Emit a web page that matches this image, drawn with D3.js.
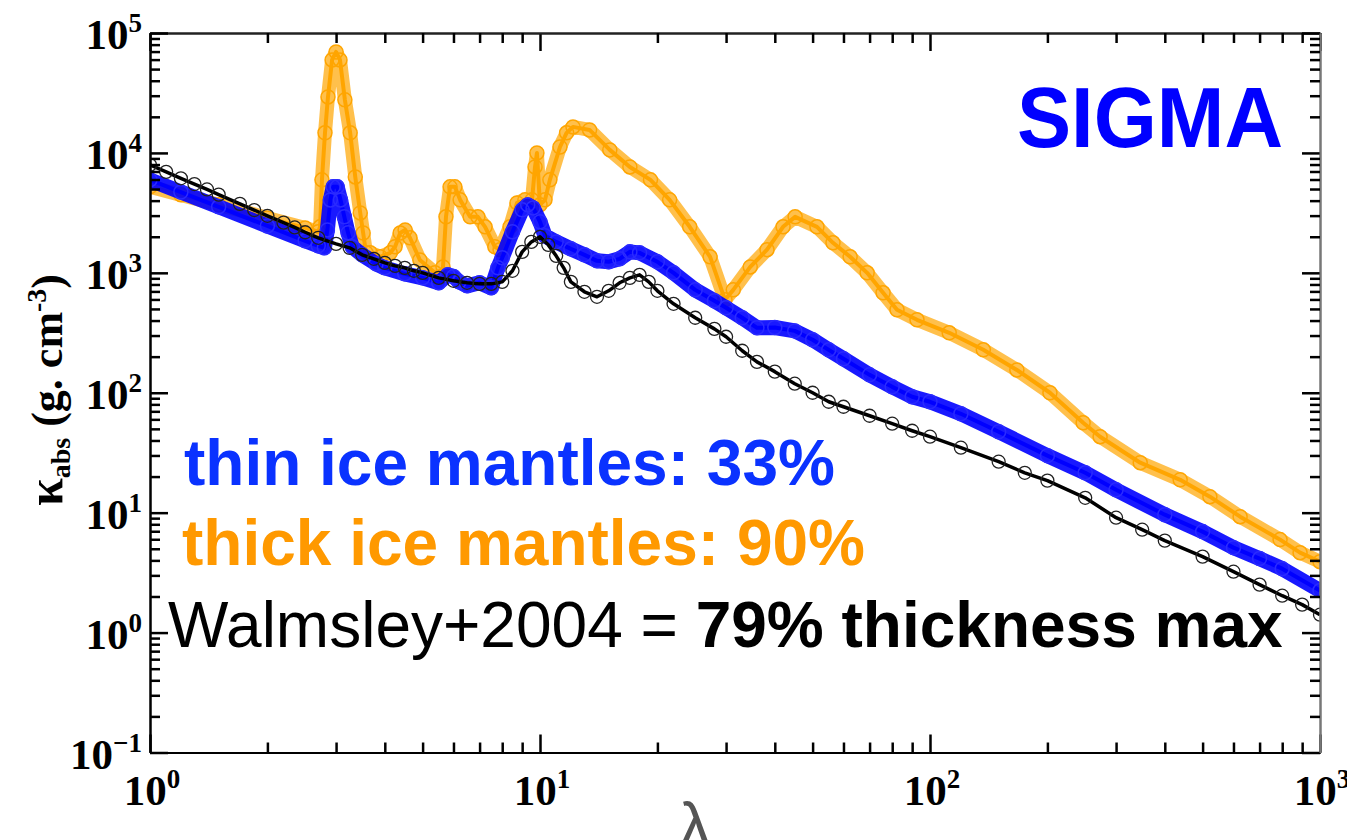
<!DOCTYPE html>
<html>
<head>
<meta charset="utf-8">
<script src="https://cdn.jsdelivr.net/npm/d3@7"></script>
<style>
  body { margin: 0; background: #fff; }
</style>
</head>
<body>
<div id="chart"></div>
<script>
// wavelength (micron) and kappa_abs values
const walmsleyLambda = [1, 1.1, 1.2, 1.3, 1.4, 1.5, 1.7, 1.85, 2, 2.2, 2.35, 2.5, 2.7, 3, 3.25, 3.5, 3.75, 4, 4.25, 4.5, 4.75, 5, 5.5, 6, 6.5, 7, 7.5, 8, 8.5, 9, 9.5, 10, 10.5, 11, 11.5, 12, 13, 14, 15, 16, 17, 18, 19, 20, 22, 25, 28, 30, 33, 36, 40, 45, 50, 55, 60, 70, 80, 90, 100, 120, 150, 175, 200, 250, 300, 350, 400, 500, 600, 700, 800, 900, 1000];
const walmsleyKappa = [7940, 6950, 6140, 5500, 4960, 4490, 3760, 3340, 2990, 2620, 2390, 2180, 1960, 1745, 1616, 1413, 1309, 1211, 1143, 1101, 1040, 1000, 908, 858, 826, 809, 809, 841, 1040, 1496, 1811, 1995, 1711, 1386, 1101, 841, 695, 631, 708, 826, 908, 962, 841, 708, 552, 422, 341, 293, 224, 181, 150, 119, 100, 84.1, 76.4, 64.3, 55.2, 48.2, 43.0, 34.8, 26.6, 21.5, 18.5, 13.3, 9.08, 7.21, 5.84, 4.30, 3.22, 2.51, 2.03, 1.71, 1.41];

const thinLambda = [1, 1.2, 1.5, 2, 2.5, 2.7, 2.8, 2.85, 2.9, 2.95, 3.02, 3.08, 3.15, 3.22, 3.3, 3.5, 3.8, 4, 4.5, 5, 5.5, 5.8, 6, 6.2, 6.5, 7, 7.5, 7.8, 8, 8.5, 9, 9.3, 9.6, 10, 10.3, 11, 12, 13, 14, 15, 16, 17, 18, 20, 22, 25, 28, 30, 33, 36, 40, 45, 50, 55, 60, 70, 80, 90, 100, 120, 150, 200, 250, 300, 400, 500, 600, 700, 800, 1000];
const thinKappa = [5960, 4720, 3550, 2460, 1850, 1680, 1616, 2280, 4055, 5210, 5210, 4055, 2931, 2154, 1648, 1413, 1189, 1101, 981, 908, 826, 962, 933, 841, 779, 826, 750, 1101, 1334, 2196, 3350, 3687, 3480, 2661, 2034, 1811, 1585, 1413, 1259, 1236, 1309, 1496, 1468, 1236, 1000, 721, 585, 511, 422, 348, 350, 328, 277, 228, 192, 141, 112, 92.6, 84.1, 66.8, 47.3, 29.9, 21.5, 15.5, 9.62, 6.95, 5.11, 4.14, 3.41, 2.24];

const thickLambda = [1, 1.2, 1.5, 2, 2.5, 2.7, 2.73, 2.76, 2.81, 2.86, 2.93, 3.0, 3.07, 3.16, 3.26, 3.36, 3.46, 3.52, 3.58, 3.67, 3.89, 4.13, 4.25, 4.38, 4.51, 4.64, 4.92, 5.38, 5.54, 5.64, 5.74, 5.88, 6.05, 6.24, 6.62, 6.93, 7.23, 7.66, 7.9, 8.38, 8.73, 9.15, 9.54, 9.71, 9.82, 10.0, 10.3, 10.6, 11.25, 11.7, 12.15, 13.4, 15.1, 17.0, 19.2, 21.5, 24.2, 27.3, 29.8, 31.3, 34.6, 38.2, 42.0, 45.1, 51.3, 56.4, 62.4, 69.0, 75.8, 82.3, 92.6, 112, 137, 167, 203, 247, 273, 346, 438, 522, 624, 790, 889, 1000];
const thickKappa = [5210, 4470, 3690, 2870, 2370, 2200, 2420, 5960, 14700, 29300, 59600, 69500, 59600, 27700, 14700, 6310, 3160, 2150, 1470, 1470, 1360, 1470, 1650, 2150, 2280, 1960, 1280, 1000, 926, 1120, 2930, 5210, 5210, 4060, 2930, 2930, 2420, 1650, 1560, 2420, 3830, 4060, 4060, 7640, 10000, 3690, 4060, 5960, 11200, 14700, 16480, 15550, 10600, 7640, 5960, 4060, 2420, 1360, 596, 721, 1120, 1560, 2420, 2930, 2420, 1780, 1360, 1000, 681, 492, 406, 316, 228, 155, 100, 56.2, 43.0, 26.1, 18.8, 13.6, 9.26, 5.96, 4.64, 3.9];

const xDecades = [0, 1, 2, 3];
const yDecades = [-1, 0, 1, 2, 3, 4, 5];

const width = 1347, height = 840;
const plot = { left: 150, right: 1320, top: 33, bottom: 752.5 };

const svg = d3.select('#chart').append('svg')
    .attr('width', width)
    .attr('height', height)
    .attr('viewBox', [0, 0, width, height]);

const x = d3.scaleLog().domain([1, 1000]).range([plot.left, plot.right]);
const y = d3.scaleLog().domain([0.1, 1e5]).range([plot.bottom, plot.top]);

svg.append('defs').append('clipPath').attr('id', 'plotclip')
    .append('rect')
    .attr('x', plot.left).attr('y', plot.top)
    .attr('width', plot.right - plot.left)
    .attr('height', plot.bottom - plot.top);

// tick positions: decades plus 2..9 minor ticks
const minorOf = decs => {
    const out = [];
    decs.slice(0, -1).forEach(d => {
        for (let k = 2; k < 10; k++) out.push(k * Math.pow(10, d));
    });
    return out;
};
const xMajor = xDecades.map(d => Math.pow(10, d));
const yMajor = yDecades.map(d => Math.pow(10, d));
const xMinor = minorOf(xDecades);
const yMinor = minorOf(yDecades);

function drawAxis(axisFn, scale, transform, domainColor) {
    const isX = scale === x;
    const g = svg.append('g').attr('transform', transform);
    g.append('g').call(axisFn(scale).tickValues(isX ? xMajor : yMajor)
        .tickSizeInner(-18).tickSizeOuter(0).tickFormat(''));
    g.append('g').call(axisFn(scale).tickValues(isX ? xMinor : yMinor)
        .tickSizeInner(-10).tickSizeOuter(0).tickFormat(''));
    g.selectAll('.tick line').attr('stroke', '#000').attr('stroke-width', 2.5);
    g.selectAll('.domain').attr('stroke', domainColor).attr('stroke-width', 2);
    return g;
}

// series
const line = d3.line().x(d => x(d.l)).y(d => y(d.k));
const series = svg.append('g').attr('clip-path', 'url(#plotclip)');

function drawSeries(lambda, kappa, style) {
    const data = lambda.map((l, i) => ({ l, k: kappa[i] }));
    const g = series.append('g');
    if (style.band) {
        g.append('path').datum(data)
            .attr('fill', 'none')
            .attr('stroke', style.color)
            .attr('stroke-opacity', style.bandOpacity)
            .attr('stroke-width', style.band)
            .attr('stroke-linejoin', 'round')
            .attr('stroke-linecap', 'round')
            .attr('d', line);
    }
    g.append('path').datum(data)
        .attr('fill', 'none')
        .attr('stroke', style.color)
        .attr('stroke-width', style.lineWidth)
        .attr('stroke-linejoin', 'round')
        .attr('d', line);
    g.selectAll('circle').data(data).join('circle')
        .attr('cx', d => x(d.l))
        .attr('cy', d => y(d.k))
        .attr('r', style.r)
        .attr('fill', 'none')
        .attr('stroke', style.markColor)
        .attr('stroke-width', style.markWidth);
}

drawSeries(thickLambda, thickKappa, { color: '#ffa500', markColor: '#ffa500', band: 14, bandOpacity: 0.7, lineWidth: 4, r: 7, markWidth: 1.5 });
drawSeries(thinLambda, thinKappa, { color: '#0000ff', markColor: '#2a2aff', band: 15, bandOpacity: 0.9, lineWidth: 4, r: 7, markWidth: 1.5 });
drawSeries(walmsleyLambda, walmsleyKappa, { color: '#000', markColor: '#222', band: 0, lineWidth: 3.5, r: 6.5, markWidth: 1.3 });

// axes, ticks inward on all four sides
drawAxis(d3.axisBottom, x, `translate(0,${plot.bottom})`, '#000');
drawAxis(d3.axisTop, x, `translate(0,${plot.top})`, '#222');
drawAxis(d3.axisLeft, y, `translate(${plot.left},0)`, '#000');
drawAxis(d3.axisRight, y, `translate(${plot.right},0)`, '#777');

// tick labels 10^n
const serif = '"Liberation Serif", "Times New Roman", serif';
const sans = '"Liberation Sans", Arial, Helvetica, sans-serif';

function powLabel(sel, exp) {
    sel.append('tspan').text('10');
    sel.append('tspan').attr('font-size', 27).attr('dy', -17)
        .text(exp < 0 ? '\u2212' + (-exp) : exp);
}

yDecades.forEach(e => {
    svg.append('text')
        .attr('x', 142).attr('y', y(Math.pow(10, e)) + 16)
        .attr('text-anchor', 'end')
        .attr('font-family', serif).attr('font-weight', 'bold').attr('font-size', 43)
        .call(powLabel, e);
});
xDecades.forEach(e => {
    svg.append('text')
        .attr('x', x(Math.pow(10, e)) + 2).attr('y', 805)
        .attr('text-anchor', 'middle')
        .attr('font-family', serif).attr('font-weight', 'bold').attr('font-size', 43)
        .call(powLabel, e);
});

// axis titles
const yTitle = svg.append('text')
    .attr('transform', 'translate(62,390) rotate(-90)')
    .attr('text-anchor', 'middle')
    .attr('font-family', serif).attr('font-weight', 'bold').attr('font-size', 44);
yTitle.append('tspan').attr('font-size', 50).text('\u03ba');
yTitle.append('tspan').attr('font-size', 28).attr('dy', 8).text('abs');
yTitle.append('tspan').attr('dy', -8).text(' (g. cm');
yTitle.append('tspan').attr('font-size', 28).attr('dy', -16).text('-3');
yTitle.append('tspan').attr('dy', 16).text(')');

svg.append('text')
    .attr('x', 695).attr('y', 848)
    .attr('text-anchor', 'middle')
    .attr('font-family', sans).attr('font-size', 64)
    .attr('fill', '#555')
    .text('\u03bb');

// annotations
svg.append('text')
    .attr('x', 1283).attr('y', 147)
    .attr('text-anchor', 'end')
    .attr('font-family', sans).attr('font-weight', 'bold').attr('font-size', 86)
    .attr('textLength', 266).attr('lengthAdjust', 'spacingAndGlyphs')
    .attr('fill', '#0000ff')
    .text('SIGMA');

svg.append('text')
    .attr('x', 184).attr('y', 485)
    .attr('font-family', sans).attr('font-weight', 'bold').attr('font-size', 64)
    .attr('fill', '#0a32ff')
    .text('thin ice mantles: 33%');

svg.append('text')
    .attr('x', 182).attr('y', 565)
    .attr('font-family', sans).attr('font-weight', 'bold').attr('font-size', 64)
    .attr('fill', '#ff9900')
    .text('thick ice mantles: 90%');

const walm = svg.append('text')
    .attr('x', 168).attr('y', 647)
    .attr('font-family', sans).attr('font-size', 64)
    .attr('fill', '#000');
walm.append('tspan').text('Walmsley+2004 = ');
walm.append('tspan').attr('font-weight', 'bold').text('79% thickness max');
</script>
</body>
</html>
